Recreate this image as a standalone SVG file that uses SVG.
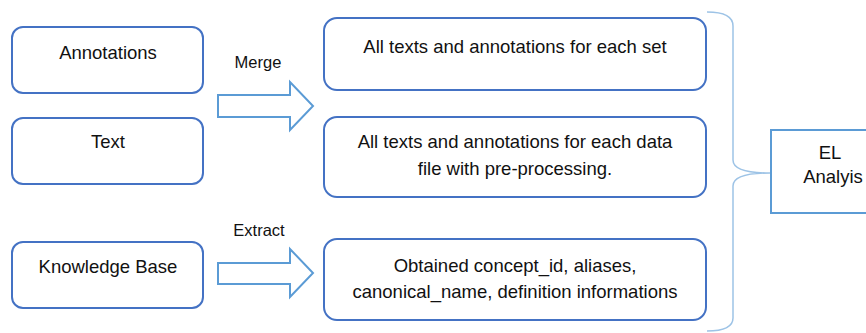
<svg xmlns="http://www.w3.org/2000/svg" width="866" height="333" viewBox="0 0 866 333">
<style>
.box{fill:#fff;stroke:#4472C4;stroke-width:2}
.arrow{fill:#fff;stroke:#5B9BD5;stroke-width:2}
.brace{fill:none;stroke:#9DC3E6;stroke-width:1.5}
.el{fill:#fff;stroke:#5B9BD5;stroke-width:2}
text{font-family:"Liberation Sans",Arial,sans-serif;fill:#111;text-anchor:middle}
.t{font-size:18.5px}
.lbl{font-size:16.5px}
</style>
<rect width="866" height="333" fill="#fff"/>
<g id="connectors">
<path class="arrow" d="M218,95 L290,95 L290,82 L313,106 L290,130 L290,117 L218,117 Z"/>
<text class="lbl" x="258" y="68">Merge</text>
<path class="arrow" d="M218,263 L290,263 L290,249 L313,273 L290,297 L290,284 L218,284 Z"/>
<text class="lbl" x="259" y="236">Extract</text>
<path class="brace" d="M707,12 Q733,12 733,26 L733,160 Q733,173 770,173 Q733,173 733,186 L733,318 Q733,331 707,331"/>
</g>
<g id="annotations">
<rect class="box" x="12" y="27" width="191" height="66" rx="11"/>
<text class="t" x="108" y="59">Annotations</text>
</g>
<g id="text">
<rect class="box" x="12" y="118" width="191" height="66" rx="11"/>
<text class="t" x="108" y="148">Text</text>
</g>
<g id="kb">
<rect class="box" x="12" y="242" width="191" height="66" rx="11"/>
<text class="t" x="108" y="273">Knowledge Base</text>
</g>
<g id="set">
<rect class="box" x="324" y="18" width="382" height="72" rx="13"/>
<text class="t" x="515" y="53">All texts and annotations for each set</text>
</g>
<g id="datafile">
<rect class="box" x="324" y="117" width="382" height="80" rx="13"/>
<text class="t" x="515" y="148">All texts and annotations for each data</text>
<text class="t" x="515" y="175">file with pre-processing.</text>
</g>
<g id="concepts">
<rect class="box" x="324" y="239" width="382" height="81" rx="13"/>
<text class="t" x="515" y="272">Obtained concept_id, aliases,</text>
<text class="t" x="515" y="298">canonical_name, definition informations</text>
</g>
<g id="el">
<rect class="el" x="771" y="130" width="120" height="83"/>
<text class="t" x="830" y="159">EL</text>
<text class="t" x="833" y="183">Analyis</text>
</g>
</svg>
